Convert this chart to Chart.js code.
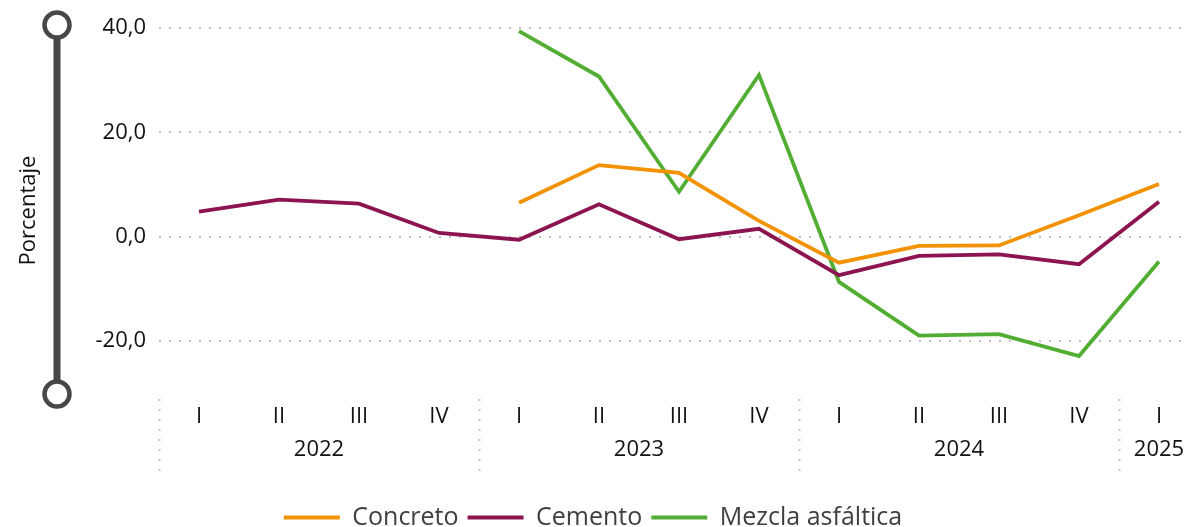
<!DOCTYPE html>
<html lang="es">
<head>
<meta charset="utf-8">
<script src="https://cdn.jsdelivr.net/npm/chart.js@4/dist/chart.umd.min.js"></script>
<style>
  html, body { margin: 0; padding: 0; background: #fff; overflow: hidden; }
  #wrap { width: 1186px; height: 527px; }
</style>
</head>
<body>
<div id="wrap"><canvas id="chart" width="1186" height="527"></canvas></div>
<script>
const quarters = ["I", "II", "III", "IV", "I", "II", "III", "IV", "I", "II", "III", "IV", "I"];
const years = ["2022", "2023", "2024", "2025"];
const yearSpans = [4, 4, 4, 1];
const yTicks = [-20, 0, 20, 40];

const concreto = [null, null, null, null, 6.5, 13.7, 12.2, 3.0, -5.0, -1.8, -1.7, 4.1, 10.1];
const cemento = [4.8, 7.1, 6.3, 0.7, -0.6, 6.2, -0.5, 1.5, -7.4, -3.7, -3.4, -5.3, 6.7];
const mezcla = [null, null, null, null, 39.4, 30.7, 8.6, 31.0, -8.7, -19.0, -18.7, -22.9, -4.8];

const FONT = "'Open Sans', 'Noto Sans', sans-serif";
const fmt = (v) => v.toFixed(1).replace(".", ",");
const pts = (arr) => arr.map((v, i) => ({ x: i, y: v }));

// eje decorativo, separadores y años
const decor = {
  id: "decor",
  afterDraw(chart) {
    const { ctx, chartArea, scales } = chart;
    const x = scales.x;
    ctx.save();
    const bx = 57, y1 = chartArea.top - 3, y2 = chartArea.bottom + 1;
    ctx.strokeStyle = "#474747";
    ctx.lineWidth = 7;
    ctx.beginPath();
    ctx.moveTo(bx, y1);
    ctx.lineTo(bx, y2);
    ctx.stroke();
    ctx.lineWidth = 4.5;
    ctx.fillStyle = "#fff";
    [y1, y2].forEach((y) => {
      ctx.beginPath();
      ctx.arc(bx, y, 12.5, 0, Math.PI * 2);
      ctx.fill();
      ctx.stroke();
    });

    ctx.font = "22px " + FONT;
    ctx.textAlign = "center";
    ctx.textBaseline = "middle";
    let start = 0;
    years.forEach((yr, k) => {
      const n = yearSpans[k];
      const sx = Math.round(x.getPixelForValue(start - 0.5)) + 0.5;
      ctx.strokeStyle = "#c0c0c0";
      ctx.lineWidth = 2;
      ctx.setLineDash([2, 8]);
      ctx.beginPath();
      ctx.moveTo(sx, chartArea.bottom + 6);
      ctx.lineTo(sx, chartArea.bottom + 78);
      ctx.stroke();
      ctx.setLineDash([]);
      ctx.fillStyle = "#111";
      ctx.fillText(yr, x.getPixelForValue(start + (n - 1) / 2), chartArea.bottom + 57);
      start += n;
    });
    ctx.restore();
  },
};

const mk = (label, data, color) => ({
  label,
  data: pts(data),
  borderColor: color,
  backgroundColor: color,
  borderWidth: 3.8,
  pointRadius: 0,
  tension: 0,
  fill: false,
});

new Chart(document.getElementById("chart"), {
  type: "line",
  data: {
    datasets: [
      mk("Concreto", concreto, "#f39200"),
      mk("Cemento", cemento, "#8c1551"),
      mk("Mezcla asfáltica", mezcla, "#52ae32"),
    ],
  },
  options: {
    responsive: false,
    animation: false,
    layout: { padding: { top: 28, left: 0, right: 0, bottom: -13 } },
    plugins: {
      tooltip: { enabled: false },
      legend: {
        position: "bottom",
        labels: {
          font: { family: FONT, size: 25 },
          color: "#404040",
          boxWidth: 56,
          boxHeight: 4,
          padding: 9,
          generateLabels: (chart) =>
            Chart.defaults.plugins.legend.labels.generateLabels(chart).map((l) => ({ ...l, lineWidth: 0 })),
        },
      },
    },
    scales: {
      x: {
        type: "linear",
        min: -0.5,
        max: 12.3375,
        afterBuildTicks: (s) => { s.ticks = quarters.map((q, i) => ({ value: i })); },
        afterFit: (s) => { s.height = 103; },
        grid: { display: false },
        border: { display: false },
        ticks: {
          autoSkip: false,
          maxRotation: 0,
          padding: 3,
          color: "#111",
          font: { family: FONT, size: 22 },
          callback: (v, i) => quarters[i],
        },
      },
      y: {
        min: -30,
        max: 40,
        afterBuildTicks: (s) => { s.ticks = yTicks.map((v) => ({ value: v })); },
        afterFit: (s) => { s.width = 159; },
        border: { display: false, dash: [2, 8] },
        grid: { color: "#c0c0c0", lineWidth: 2, drawTicks: false },
        ticks: {
          padding: 13,
          color: "#111",
          font: { family: FONT, size: 22 },
          callback: (v) => fmt(v),
        },
        title: {
          display: true,
          text: "Porcentaje",
          color: "#111",
          font: { family: FONT, size: 22 },
          padding: { top: 16, bottom: 0 },
        },
      },
    },
  },
  plugins: [decor],
});
</script>
</body>
</html>
